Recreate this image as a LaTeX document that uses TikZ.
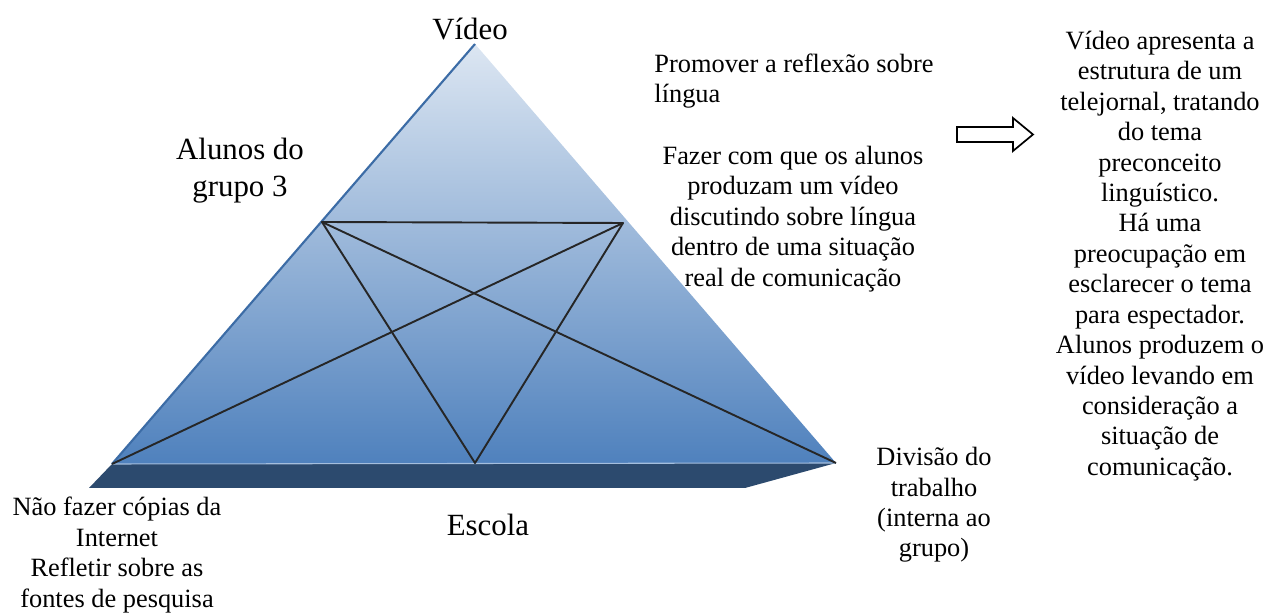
\documentclass[tikz,border=0pt]{standalone}
\usepackage{fontspec}
\setmainfont{Liberation Serif}
\usepackage{xcolor}
\usepackage{tikz}
\definecolor{topblue}{HTML}{DCE6F2}
\definecolor{baseblue}{HTML}{4F81BD}
\definecolor{slab}{HTML}{2C4A6E}
\definecolor{rim}{HTML}{3C6CA6}
\tikzset{
  star/.style={draw=black!85, line width=0.9pt, line join=round},
  big/.style={font=\fontsize{14.5}{17.5}\selectfont, align=center, inner sep=0pt},
  txt/.style={font=\fontsize{12.4}{14.3}\selectfont, align=center, inner sep=0pt},
  hollow/.style={draw=black, line width=0.8pt, fill=white, line join=miter},
}

\begin{document}
\begin{tikzpicture}[x=0.47pt, y=-0.47pt]
  \useasboundingbox (0,0) rectangle (1267,613);
  \coordinate (apex) at (475,44);
  \coordinate (left) at (112,464);
  \coordinate (right) at (836,463);
  \coordinate (slabL) at (89,488);
  \coordinate (slabR) at (745,488);
  \coordinate (t1) at (322,222);
  \coordinate (t2) at (623,223);
  \coordinate (mid) at (475,463);
  \fill[slab] (left) -- (right) -- (slabR) -- (slabL) -- cycle;
  \shade[top color=topblue, bottom color=baseblue] (apex) -- (left) -- (right) -- cycle;
  \draw[rim, line width=1pt] (apex) -- (left);
  \draw[topblue!60!baseblue, line width=0.5pt] (left) -- (right);
  \draw[star] (t1) -- (t2) -- (mid) -- cycle;
  \draw[star] (t1) -- (right);
  \draw[star] (t2) -- (left);
  \node[big] (video) at (470,29) {Vídeo};
  \node[big] (alunos) at (240,171) {Alunos do\\grupo 3};
  \node[big] (escola) at (488,525) {Escola};
  \node[txt, align=left, anchor=west] (promover) at (654,81) {Promover a reflexão sobre\\língua};
  \node[txt] (fazer) at (793,219) {Fazer com que os alunos\\produzam um vídeo\\discutindo sobre língua\\dentro de uma situação\\real de comunicação};
  \node[txt] (divisao) at (934,505) {Divisão do\\trabalho\\(interna ao\\grupo)};
  \node[txt] (copias) at (117,555) {Não fazer cópias da\\Internet\\Refletir sobre as\\fontes de pesquisa};
  \node[txt] (descricao) at (1160,256) {Vídeo apresenta a\\estrutura de um\\telejornal, tratando\\do tema\\preconceito\\linguístico.\\Há uma\\preocupação em\\esclarecer o tema\\para espectador.\\Alunos produzem o\\vídeo levando em\\consideração a\\situação de\\comunicação.};
  \draw[hollow] (957,127) -- (1013,127) -- (1013,118) -- (1033,134.5) -- (1013,151) -- (1013,142) -- (957,142) -- cycle;
\end{tikzpicture}
\end{document}
